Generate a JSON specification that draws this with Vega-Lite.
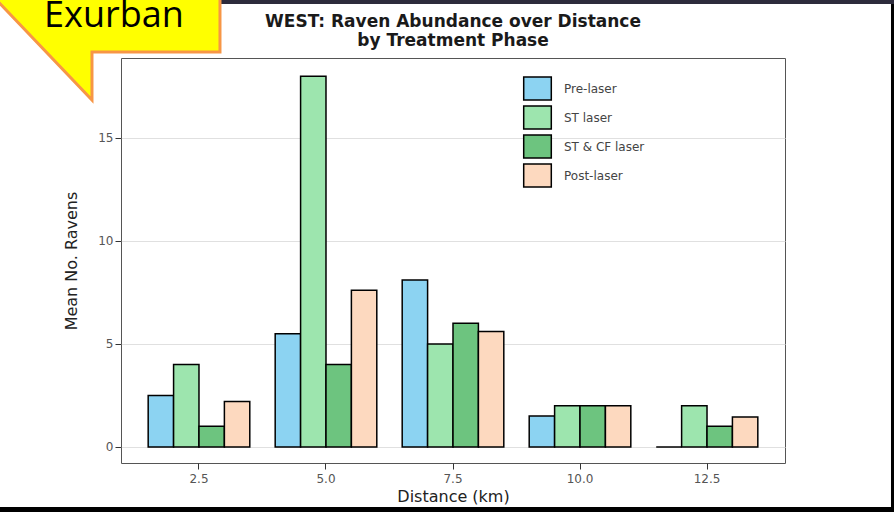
{
  "$schema": "https://vega.github.io/schema/vega-lite/v6.json",
  "width": 664,
  "height": 405,
  "autosize": {"type": "none"},
  "padding": {"left": 121, "top": 58, "right": 109, "bottom": 49},
  "background": "white",
  "layer": [
    {
      "data": {
        "values": [
          {"distance": "2.5", "phase": "Pre-laser", "ravens": 2.5},
          {"distance": "2.5", "phase": "ST laser", "ravens": 4.0},
          {"distance": "2.5", "phase": "ST & CF laser", "ravens": 1.0},
          {"distance": "2.5", "phase": "Post-laser", "ravens": 2.2},
          {"distance": "5.0", "phase": "Pre-laser", "ravens": 5.5},
          {"distance": "5.0", "phase": "ST laser", "ravens": 18.0},
          {"distance": "5.0", "phase": "ST & CF laser", "ravens": 4.0},
          {"distance": "5.0", "phase": "Post-laser", "ravens": 7.6},
          {"distance": "7.5", "phase": "Pre-laser", "ravens": 8.1},
          {"distance": "7.5", "phase": "ST laser", "ravens": 5.0},
          {"distance": "7.5", "phase": "ST & CF laser", "ravens": 6.0},
          {"distance": "7.5", "phase": "Post-laser", "ravens": 5.6},
          {"distance": "10.0", "phase": "Pre-laser", "ravens": 1.5},
          {"distance": "10.0", "phase": "ST laser", "ravens": 2.0},
          {"distance": "10.0", "phase": "ST & CF laser", "ravens": 2.0},
          {"distance": "10.0", "phase": "Post-laser", "ravens": 2.0},
          {"distance": "12.5", "phase": "Pre-laser", "ravens": 0.0},
          {"distance": "12.5", "phase": "ST laser", "ravens": 2.0},
          {"distance": "12.5", "phase": "ST & CF laser", "ravens": 1.0},
          {"distance": "12.5", "phase": "Post-laser", "ravens": 1.45}
        ]
      },
      "mark": {"type": "bar", "stroke": "black", "strokeWidth": 1.5},
      "encoding": {
        "x": {
          "field": "distance",
          "type": "nominal",
          "sort": ["2.5", "5.0", "7.5", "10.0", "12.5"],
          "scale": {"paddingInner": 0.2, "paddingOuter": 0.214},
          "axis": {
            "title": "Distance (km)",
            "labelAngle": 0,
            "domain": false,
            "grid": false,
            "tickSize": 6,
            "tickColor": "#333333",
            "labelPadding": 4,
            "titlePadding": 4
          }
        },
        "xOffset": {
          "field": "phase",
          "type": "nominal",
          "sort": ["Pre-laser", "ST laser", "ST & CF laser", "Post-laser"],
          "scale": {"paddingInner": 0, "paddingOuter": 0}
        },
        "y": {
          "field": "ravens",
          "type": "quantitative",
          "scale": {"domain": [-0.78, 18.88], "nice": false, "zero": false},
          "axis": {
            "title": "Mean No. Ravens",
            "values": [0, 5, 10, 15],
            "domain": false,
            "tickSize": 6,
            "tickColor": "#333333",
            "labelPadding": 2,
            "titlePadding": 18,
            "gridColor": "#e0e0e0"
          }
        },
        "y2": {"datum": 0},
        "color": {
          "field": "phase",
          "type": "nominal",
          "sort": ["Pre-laser", "ST laser", "ST & CF laser", "Post-laser"],
          "scale": {
            "domain": ["Pre-laser", "ST laser", "ST & CF laser", "Post-laser"],
            "range": ["#8CD3F2", "#9DE5AE", "#6DC47F", "#FDD9BF"]
          },
          "legend": {
            "title": null,
            "orient": "none",
            "legendX": 404,
            "legendY": 18,
            "padding": 0,
            "symbolType": "M-1.2,-1L1.2,-1L1.2,1L-1.2,1Z",
            "symbolSize": 529,
            "symbolStrokeColor": "black",
            "symbolStrokeWidth": 1.5,
            "symbolOpacity": 1,
            "rowPadding": 0,
            "labelOffset": 14,
            "labelFont": "DejaVu Sans",
            "labelFontSize": 12,
            "labelColor": "#444444"
          }
        }
      }
    },
    {
      "data": {"values": [{"note": "frame"}]},
      "mark": {
        "type": "point",
        "shape": "M-199,449L698,449L698,457L-199,457Z M692,-62L698,-62L698,457L692,457Z",
        "size": 4,
        "filled": true,
        "fill": "black",
        "opacity": 1,
        "strokeWidth": 0
      },
      "encoding": {
        "x": {"datum": "2.5"},
        "y": {"datum": 18.88}
      }
    },
    {
      "data": {"values": [{"note": "topbar"}]},
      "mark": {
        "type": "point",
        "shape": "M21,-62L698,-62L698,-54L21,-54Z",
        "size": 4,
        "filled": true,
        "fill": "#2d2b3c",
        "opacity": 1,
        "strokeWidth": 0
      },
      "encoding": {
        "x": {"datum": "2.5"},
        "y": {"datum": 18.88}
      }
    },
    {
      "data": {"values": [{"note": "callout"}]},
      "mark": {
        "type": "point",
        "shape": "M-210,-66L-107,42L-107,-6L21,-6L21,-66Z",
        "size": 4,
        "filled": true,
        "fill": "#FFFF00",
        "stroke": "#F79646",
        "strokeWidth": 3,
        "opacity": 1
      },
      "encoding": {
        "x": {"datum": "2.5"},
        "y": {"datum": 18.88}
      }
    },
    {
      "data": {"values": [{"label": "Exurban"}]},
      "mark": {
        "type": "text",
        "font": "Open Sans",
        "fontSize": 36,
        "color": "black",
        "align": "center",
        "baseline": "alphabetic",
        "dx": -85,
        "dy": -31
      },
      "encoding": {
        "x": {"datum": "2.5"},
        "y": {"datum": 18.88},
        "text": {"field": "label"}
      }
    },
    {
      "data": {"values": [{"title": "WEST: Raven Abundance over Distance\nby Treatment Phase"}]},
      "mark": {
        "type": "text",
        "font": "DejaVu Sans",
        "fontSize": 17,
        "fontWeight": "bold",
        "color": "#1a1a1a",
        "align": "center",
        "baseline": "alphabetic",
        "lineBreak": "\n",
        "lineHeight": 19,
        "dy": -31
      },
      "encoding": {
        "x": {"datum": "7.5"},
        "y": {"datum": 18.88},
        "text": {"field": "title"}
      }
    }
  ],
  "config": {
    "font": "DejaVu Sans",
    "view": {"stroke": "#555555", "strokeWidth": 1},
    "axis": {
      "labelFont": "DejaVu Sans",
      "labelFontSize": 12,
      "labelColor": "#555555",
      "titleFont": "DejaVu Sans",
      "titleFontSize": 16,
      "titleFontWeight": "normal",
      "titleColor": "#222222"
    }
  }
}
